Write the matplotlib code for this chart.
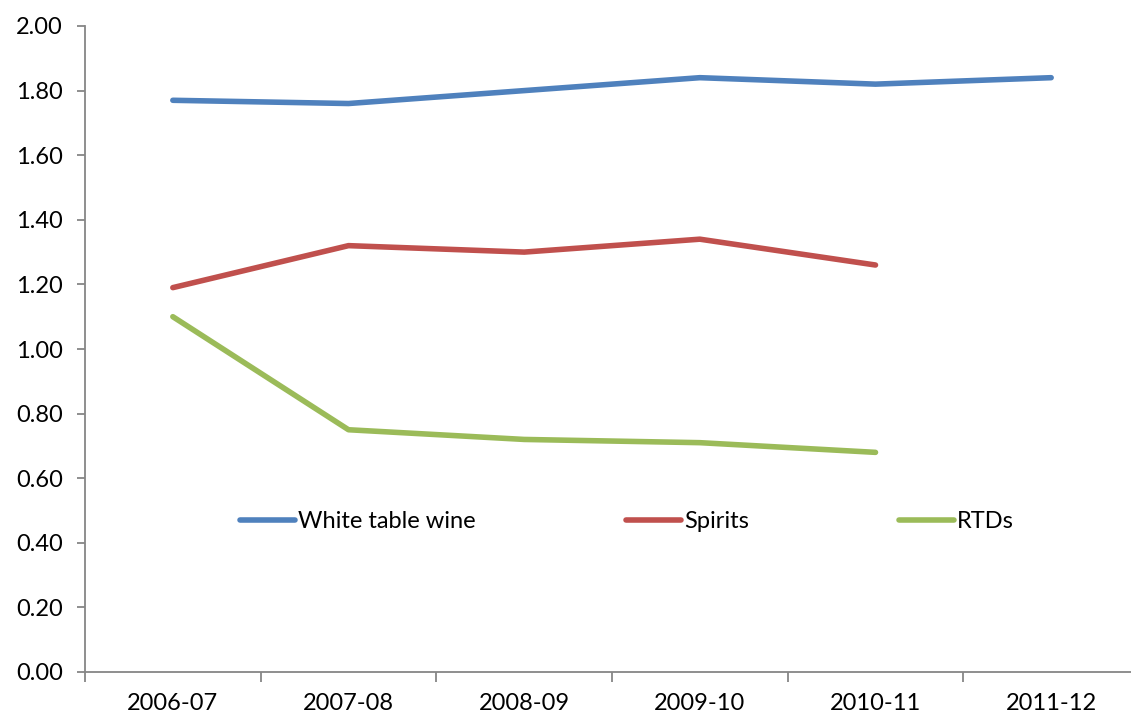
import matplotlib.pyplot as plt

# Apparent consumption by beverage type
years = ['2006-07', '2007-08', '2008-09', '2009-10', '2010-11', '2011-12']
white_wine = [1.77, 1.76, 1.80, 1.84, 1.82, 1.84]
spirits = [1.19, 1.32, 1.30, 1.34, 1.26]
rtds = [1.10, 0.75, 0.72, 0.71, 0.68]

plt.rcParams['font.family'] = ['Lato', 'DejaVu Sans']

fig = plt.figure(figsize=(11.31, 7.17), dpi=100)
W, H = 1131, 717
ax = fig.add_axes([85 / W, 45 / H, (1139 - 85) / W, 646 / H])

x = list(range(len(years)))
ax.plot(x, white_wine, color='#4F81BD', lw=4, label='White table wine', solid_capstyle='round')
ax.plot(x[:len(spirits)], spirits, color='#C0504D', lw=4, label='Spirits', solid_capstyle='round')
ax.plot(x[:len(rtds)], rtds, color='#9BBB59', lw=4, label='RTDs', solid_capstyle='round')

ax.set_xlim(-0.5, len(years) - 0.5)
ax.set_ylim(0, 2.0)
ax.set_yticks([i * 0.2 for i in range(11)])
ax.set_yticklabels([f'{i * 0.2:.2f}' for i in range(11)])
ax.set_xticks(x)
ax.set_xticklabels(years)
ax.set_xticks([i - 0.5 for i in range(len(years) + 1)], minor=True)

for s in ['top', 'right']:
    ax.spines[s].set_visible(False)
for s in ['left', 'bottom']:
    ax.spines[s].set_color('#868686')
    ax.spines[s].set_linewidth(1.3)

fs = 17
ax.tick_params(axis='y', which='major', direction='out', length=6, width=1.3,
               color='#868686', labelsize=fs, pad=10)
ax.tick_params(axis='x', which='major', length=0, labelsize=fs, pad=15)
ax.tick_params(axis='x', which='minor', direction='out', length=7, width=1.3,
               color='#868686')

ax.legend(loc='center left', bbox_to_anchor=(240 / W, 1 - 522 / H),
          bbox_transform=fig.transFigure, borderpad=0, borderaxespad=0,
          ncol=3, frameon=False, fontsize=fs, handlelength=2.33,
          handletextpad=0.13, columnspacing=6.35)

fig.savefig('out.png', dpi=100)
